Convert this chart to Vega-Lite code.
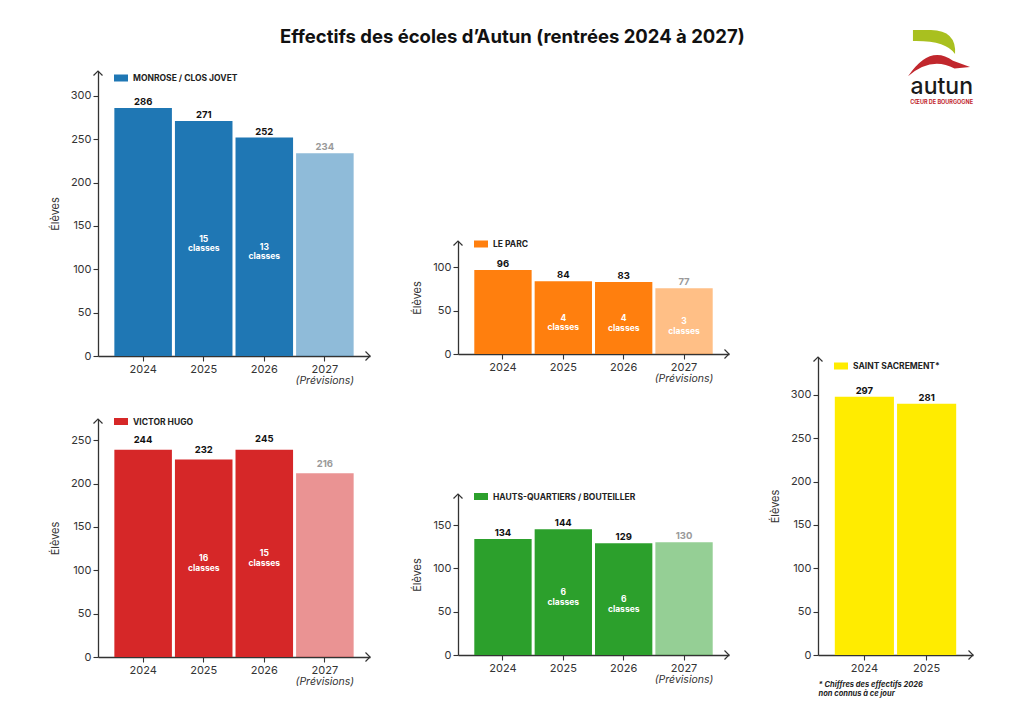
{
  "$schema": "https://vega.github.io/schema/vega-lite/v6.json",
  "autosize": {"type": "pad"},
  "padding": {"left": 49, "top": 28, "right": 5, "bottom": 5},
  "background": "white",
  "title": {"text": "Effectifs des écoles d’Autun (rentrées 2024 à 2027)", "fontSize": 18.5, "fontWeight": "bold", "color": "#111111", "anchor": "middle", "frame": "bounds", "offset": -17},
  "data": {"values": [
    {"ecole": "MONROSE / CLOS JOVET", "annee": "2024", "eleves": 286, "label": "286", "statut": "réel", "classes": ""},
    {"ecole": "MONROSE / CLOS JOVET", "annee": "2025", "eleves": 271, "label": "271", "statut": "réel", "classes": "15 classes"},
    {"ecole": "MONROSE / CLOS JOVET", "annee": "2026", "eleves": 252, "label": "252", "statut": "réel", "classes": "13 classes"},
    {"ecole": "MONROSE / CLOS JOVET", "annee": "2027", "eleves": 234, "label": "234", "statut": "prévision", "classes": ""},
    {"ecole": "LE PARC", "annee": "2024", "eleves": 97, "label": "96", "statut": "réel", "classes": ""},
    {"ecole": "LE PARC", "annee": "2025", "eleves": 84, "label": "84", "statut": "réel", "classes": "4 classes"},
    {"ecole": "LE PARC", "annee": "2026", "eleves": 83, "label": "83", "statut": "réel", "classes": "4 classes"},
    {"ecole": "LE PARC", "annee": "2027", "eleves": 76, "label": "77", "statut": "prévision", "classes": "3 classes"},
    {"ecole": "VICTOR HUGO", "annee": "2024", "eleves": 239, "label": "244", "statut": "réel", "classes": ""},
    {"ecole": "VICTOR HUGO", "annee": "2025", "eleves": 228, "label": "232", "statut": "réel", "classes": "16 classes"},
    {"ecole": "VICTOR HUGO", "annee": "2026", "eleves": 239, "label": "245", "statut": "réel", "classes": "15 classes"},
    {"ecole": "VICTOR HUGO", "annee": "2027", "eleves": 212, "label": "216", "statut": "prévision", "classes": ""},
    {"ecole": "HAUTS-QUARTIERS / BOUTEILLER", "annee": "2024", "eleves": 134, "label": "134", "statut": "réel", "classes": ""},
    {"ecole": "HAUTS-QUARTIERS / BOUTEILLER", "annee": "2025", "eleves": 145, "label": "144", "statut": "réel", "classes": "6 classes"},
    {"ecole": "HAUTS-QUARTIERS / BOUTEILLER", "annee": "2026", "eleves": 129, "label": "129", "statut": "réel", "classes": "6 classes"},
    {"ecole": "HAUTS-QUARTIERS / BOUTEILLER", "annee": "2027", "eleves": 130, "label": "130", "statut": "prévision", "classes": ""},
    {"ecole": "SAINT SACREMENT*", "annee": "2024", "eleves": 298, "label": "297", "statut": "réel", "classes": ""},
    {"ecole": "SAINT SACREMENT*", "annee": "2025", "eleves": 290, "label": "281", "statut": "réel", "classes": ""}
  ]},
  "spacing": 360,
  "bounds": "flush",
  "resolve": {"scale": {"color": "independent", "opacity": "independent", "x": "independent", "y": "independent"}, "legend": {"color": "independent"}},
  "hconcat": [
    {
      "spacing": 63,
      "bounds": "flush",
      "resolve": {"scale": {"color": "independent", "opacity": "independent", "x": "independent", "y": "independent"}, "legend": {"color": "independent"}},
      "vconcat": [
        {
          "width": 272, "height": 285,
          "transform": [{"filter": {"field": "ecole", "equal": "MONROSE / CLOS JOVET"}}],
          "encoding": {"x": {"field": "annee", "type": "ordinal", "sort": "ascending", "scale": {"paddingInner": 0.05, "paddingOuter": 0.27}, "axis": {"title": null, "labelAngle": 0}}},
          "layer": [
            {"layer": [
              {"mark": {"type": "bar"}, "encoding": {
                "y": {"field": "eleves", "type": "quantitative", "scale": {"domain": [0, 328.8], "nice": false}, "axis": {"title": "Élèves", "values": [0, 50, 100, 150, 200, 250, 300]}},
                "color": {"field": "ecole", "type": "nominal", "scale": {"range": ["#1f77b4"]}, "legend": {"title": null, "legendY": 0}},
                "opacity": {"field": "statut", "type": "nominal", "scale": {"domain": ["réel", "prévision"], "range": [1, 0.5]}, "legend": null}}},
              {"mark": {"type": "text", "baseline": "alphabetic", "dy": -3, "fontWeight": "bold", "fontSize": 9.5}, "encoding": {"y": {"field": "eleves", "type": "quantitative"}, "text": {"field": "label"}, "color": {"condition": {"test": "datum.statut === 'prévision'", "value": "#9a9a9a"}, "value": "#111111"}}},
              {"transform": [{"filter": "datum.statut === 'prévision'"}], "mark": {"type": "text", "fontStyle": "italic", "fontSize": 10.5, "color": "#333333", "baseline": "middle", "dy": 25}, "encoding": {"y": {"datum": 0, "type": "quantitative"}, "text": {"value": "(Prévisions)"}}},
              {"data": {"values": [{}]}, "mark": {"type": "point", "shape": "M-1,1L0,0L1,1", "filled": false, "stroke": "#333333", "strokeWidth": 1.2, "size": 81, "opacity": 1}, "encoding": {"x": {"value": 0}, "y": {"value": 0}}},
              {"data": {"values": [{}]}, "mark": {"type": "point", "shape": "M-1,-1L0,0L-1,1", "filled": false, "stroke": "#333333", "strokeWidth": 1.2, "size": 81, "opacity": 1}, "encoding": {"x": {"value": "width"}, "y": {"value": "height"}}}
            ]},
            {"transform": [{"filter": "datum.classes"}], "mark": {"type": "text", "lineBreak": " ", "fontWeight": "bold", "fontSize": 8.5, "color": "white", "baseline": "middle", "lineHeight": 9.5}, "encoding": {"y": {"field": "eleves", "type": "quantitative", "scale": {"domain": [0, 657.6], "nice": false}, "axis": null}, "text": {"field": "classes"}}}
          ],
          "resolve": {"scale": {"y": "independent"}}
        },
        {
          "width": 272, "height": 238,
          "transform": [{"filter": {"field": "ecole", "equal": "VICTOR HUGO"}}],
          "encoding": {"x": {"field": "annee", "type": "ordinal", "sort": "ascending", "scale": {"paddingInner": 0.05, "paddingOuter": 0.27}, "axis": {"title": null, "labelAngle": 0}}},
          "layer": [
            {"layer": [
              {"mark": {"type": "bar"}, "encoding": {
                "y": {"field": "eleves", "type": "quantitative", "scale": {"domain": [0, 274.6], "nice": false}, "axis": {"title": "Élèves", "values": [0, 50, 100, 150, 200, 250]}},
                "color": {"field": "ecole", "type": "nominal", "scale": {"range": ["#d62728"]}, "legend": {"title": null, "legendY": -4.5}},
                "opacity": {"field": "statut", "type": "nominal", "scale": {"domain": ["réel", "prévision"], "range": [1, 0.5]}, "legend": null}}},
              {"mark": {"type": "text", "baseline": "alphabetic", "dy": -3, "fontWeight": "bold", "fontSize": 9.5}, "encoding": {"y": {"field": "label", "type": "quantitative"}, "text": {"field": "label"}, "color": {"condition": {"test": "datum.statut === 'prévision'", "value": "#9a9a9a"}, "value": "#111111"}}},
              {"transform": [{"filter": "datum.statut === 'prévision'"}], "mark": {"type": "text", "fontStyle": "italic", "fontSize": 10.5, "color": "#333333", "baseline": "middle", "dy": 25}, "encoding": {"y": {"datum": 0, "type": "quantitative"}, "text": {"value": "(Prévisions)"}}},
              {"data": {"values": [{}]}, "mark": {"type": "point", "shape": "M-1,1L0,0L1,1", "filled": false, "stroke": "#333333", "strokeWidth": 1.2, "size": 81, "opacity": 1}, "encoding": {"x": {"value": 0}, "y": {"value": 0}}},
              {"data": {"values": [{}]}, "mark": {"type": "point", "shape": "M-1,-1L0,0L-1,1", "filled": false, "stroke": "#333333", "strokeWidth": 1.2, "size": 81, "opacity": 1}, "encoding": {"x": {"value": "width"}, "y": {"value": "height"}}}
            ]},
            {"transform": [{"filter": "datum.classes"}], "mark": {"type": "text", "lineBreak": " ", "fontWeight": "bold", "fontSize": 8.5, "color": "white", "baseline": "middle", "lineHeight": 9.5}, "encoding": {"y": {"field": "eleves", "type": "quantitative", "scale": {"domain": [0, 549.2], "nice": false}, "axis": null}, "text": {"field": "classes"}}}
          ],
          "resolve": {"scale": {"y": "independent"}}
        }
      ]
    },
    {
      "spacing": 140,
      "bounds": "flush",
      "resolve": {"scale": {"color": "independent", "opacity": "independent", "x": "independent", "y": "independent"}, "legend": {"color": "independent"}},
      "vconcat": [
        {"width": 271, "height": 30, "data": {"values": [{}]}, "mark": {"type": "text"}, "encoding": {"text": {"value": ""}}},
        {
          "width": 271, "height": 113,
          "transform": [{"filter": {"field": "ecole", "equal": "LE PARC"}}],
          "encoding": {"x": {"field": "annee", "type": "ordinal", "sort": "ascending", "scale": {"paddingInner": 0.05, "paddingOuter": 0.27}, "axis": {"title": null, "labelAngle": 0}}},
          "layer": [
            {"layer": [
              {"mark": {"type": "bar"}, "encoding": {
                "y": {"field": "eleves", "type": "quantitative", "scale": {"domain": [0, 130.4], "nice": false}, "axis": {"title": "Élèves", "values": [0, 50, 100]}},
                "color": {"field": "ecole", "type": "nominal", "scale": {"range": ["#ff7f0e"]}, "legend": {"title": null, "legendY": -4}},
                "opacity": {"field": "statut", "type": "nominal", "scale": {"domain": ["réel", "prévision"], "range": [1, 0.5]}, "legend": null}}},
              {"mark": {"type": "text", "baseline": "alphabetic", "dy": -3, "fontWeight": "bold", "fontSize": 9.5}, "encoding": {"y": {"field": "eleves", "type": "quantitative"}, "text": {"field": "label"}, "color": {"condition": {"test": "datum.statut === 'prévision'", "value": "#9a9a9a"}, "value": "#111111"}}},
              {"transform": [{"filter": "datum.statut === 'prévision'"}], "mark": {"type": "text", "fontStyle": "italic", "fontSize": 10.5, "color": "#333333", "baseline": "middle", "dy": 25}, "encoding": {"y": {"datum": 0, "type": "quantitative"}, "text": {"value": "(Prévisions)"}}},
              {"data": {"values": [{}]}, "mark": {"type": "point", "shape": "M-1,1L0,0L1,1", "filled": false, "stroke": "#333333", "strokeWidth": 1.2, "size": 81, "opacity": 1}, "encoding": {"x": {"value": 0}, "y": {"value": 0}}},
              {"data": {"values": [{}]}, "mark": {"type": "point", "shape": "M-1,-1L0,0L-1,1", "filled": false, "stroke": "#333333", "strokeWidth": 1.2, "size": 81, "opacity": 1}, "encoding": {"x": {"value": "width"}, "y": {"value": "height"}}}
            ]},
            {"transform": [{"filter": "datum.classes"}], "mark": {"type": "text", "lineBreak": " ", "fontWeight": "bold", "fontSize": 8.5, "color": "white", "baseline": "middle", "lineHeight": 9.5}, "encoding": {"y": {"field": "eleves", "type": "quantitative", "scale": {"domain": [0, 260.8], "nice": false}, "axis": null}, "text": {"field": "classes"}}}
          ],
          "resolve": {"scale": {"y": "independent"}}
        },
        {
          "width": 271, "height": 161,
          "transform": [{"filter": {"field": "ecole", "equal": "HAUTS-QUARTIERS / BOUTEILLER"}}],
          "encoding": {"x": {"field": "annee", "type": "ordinal", "sort": "ascending", "scale": {"paddingInner": 0.05, "paddingOuter": 0.27}, "axis": {"title": null, "labelAngle": 0}}},
          "layer": [
            {"layer": [
              {"mark": {"type": "bar"}, "encoding": {
                "y": {"field": "eleves", "type": "quantitative", "scale": {"domain": [0, 185.8], "nice": false}, "axis": {"title": "Élèves", "values": [0, 50, 100, 150]}},
                "color": {"field": "ecole", "type": "nominal", "scale": {"range": ["#2ca02c"]}, "legend": {"title": null, "legendY": -4.5}},
                "opacity": {"field": "statut", "type": "nominal", "scale": {"domain": ["réel", "prévision"], "range": [1, 0.5]}, "legend": null}}},
              {"mark": {"type": "text", "baseline": "alphabetic", "dy": -3, "fontWeight": "bold", "fontSize": 9.5}, "encoding": {"y": {"field": "eleves", "type": "quantitative"}, "text": {"field": "label"}, "color": {"condition": {"test": "datum.statut === 'prévision'", "value": "#9a9a9a"}, "value": "#111111"}}},
              {"transform": [{"filter": "datum.statut === 'prévision'"}], "mark": {"type": "text", "fontStyle": "italic", "fontSize": 10.5, "color": "#333333", "baseline": "middle", "dy": 25}, "encoding": {"y": {"datum": 0, "type": "quantitative"}, "text": {"value": "(Prévisions)"}}},
              {"data": {"values": [{}]}, "mark": {"type": "point", "shape": "M-1,1L0,0L1,1", "filled": false, "stroke": "#333333", "strokeWidth": 1.2, "size": 81, "opacity": 1}, "encoding": {"x": {"value": 0}, "y": {"value": 0}}},
              {"data": {"values": [{}]}, "mark": {"type": "point", "shape": "M-1,-1L0,0L-1,1", "filled": false, "stroke": "#333333", "strokeWidth": 1.2, "size": 81, "opacity": 1}, "encoding": {"x": {"value": "width"}, "y": {"value": "height"}}}
            ]},
            {"transform": [{"filter": "datum.classes"}], "mark": {"type": "text", "lineBreak": " ", "fontWeight": "bold", "fontSize": 8.5, "color": "white", "baseline": "middle", "lineHeight": 9.5}, "encoding": {"y": {"field": "eleves", "type": "quantitative", "scale": {"domain": [0, 371.6], "nice": false}, "axis": null}, "text": {"field": "classes"}}}
          ],
          "resolve": {"scale": {"y": "independent"}}
        }
      ]
    },
    {
      "spacing": 20,
      "bounds": "flush",
      "resolve": {"scale": {"color": "independent", "opacity": "independent", "x": "independent", "y": "independent"}, "legend": {"color": "independent"}},
      "vconcat": [
        {
          "width": 155, "height": 266,
          "title": {"text": "autun", "subtitle": "CŒUR DE BOURGOGNE", "anchor": "end", "frame": "group", "orient": "top", "offset": -76, "fontSize": 23, "fontWeight": 500, "color": "#1a1a1a", "subtitleFontSize": 5.5, "subtitleFontWeight": "bold", "subtitleColor": "#c1272d", "subtitlePadding": 1, "dx": 0},
          "layer": [
            {"data": {"values": [{"forme": "feuille"}]}, "mark": {"type": "point", "shape": "M-1,-0.57L-0.22,-0.57Q0.9,-0.55 0.83,0.48Q0.45,-0.12 -1,-0.09Z", "filled": true, "fill": "#a9c01f", "strokeWidth": 0, "size": 2116, "opacity": 1}, "encoding": {"x": {"datum": 0.761, "type": "quantitative", "scale": {"domain": [0, 1], "nice": false, "zero": false}, "axis": null}, "y": {"datum": 1.105, "type": "quantitative", "scale": {"domain": [0, 1], "nice": false, "zero": false}, "axis": null}}},
            {"data": {"values": [{"forme": "courbe"}]}, "mark": {"type": "point", "shape": "M-1,0.3Q-0.3,-0.75 0.45,-0.2L1,0L0.5,0.05Q-0.25,-0.35 -1,0.3Z", "filled": true, "fill": "#c1272d", "strokeWidth": 0, "size": 3844, "opacity": 1}, "encoding": {"x": {"datum": 0.781, "type": "quantitative"}, "y": {"datum": 1.015, "type": "quantitative"}}}
          ]
        },
        {
          "width": 155, "height": 298,
          "transform": [{"filter": {"field": "ecole", "equal": "SAINT SACREMENT*"}}],
          "encoding": {"x": {"field": "annee", "type": "ordinal", "sort": "ascending", "scale": {"paddingInner": 0.05, "paddingOuter": 0.27}, "axis": {"labelAngle": 0, "title": ["* Chiffres des effectifs 2026", "\u00a0\u00a0\u00a0non connus à ce jour"], "titleFontSize": 7.5, "titleFontStyle": "italic", "titleFontWeight": "bold", "titleAnchor": "start", "titleAlign": "left", "titlePadding": 7, "titleLineHeight": 9.5, "titleColor": "#222222"}}},
          "layer": [
            {"mark": {"type": "bar"}, "encoding": {
              "y": {"field": "eleves", "type": "quantitative", "scale": {"domain": [0, 343.8], "nice": false}, "axis": {"title": "Élèves", "values": [0, 50, 100, 150, 200, 250, 300]}},
              "color": {"field": "ecole", "type": "nominal", "scale": {"range": ["#ffec00"]}, "legend": {"title": null, "legendY": 2}},
              "opacity": {"field": "statut", "type": "nominal", "scale": {"domain": ["réel", "prévision"], "range": [1, 0.5]}, "legend": null}}},
            {"mark": {"type": "text", "baseline": "alphabetic", "dy": -3, "fontWeight": "bold", "fontSize": 9.5, "color": "#111111"}, "encoding": {"y": {"field": "eleves", "type": "quantitative"}, "text": {"field": "label"}}},
            {"data": {"values": [{}]}, "mark": {"type": "point", "shape": "M-1,1L0,0L1,1", "filled": false, "stroke": "#333333", "strokeWidth": 1.2, "size": 81, "opacity": 1}, "encoding": {"x": {"value": 0}, "y": {"value": 0}}},
            {"data": {"values": [{}]}, "mark": {"type": "point", "shape": "M-1,-1L0,0L-1,1", "filled": false, "stroke": "#333333", "strokeWidth": 1.2, "size": 81, "opacity": 1}, "encoding": {"x": {"value": "width"}, "y": {"value": "height"}}}
          ]
        }
      ]
    }
  ],
  "config": {
    "font": "Inter",
    "view": {"stroke": null},
    "axis": {"grid": false, "domainColor": "#333333", "tickColor": "#333333", "labelColor": "#333333", "titleColor": "#333333", "labelFontSize": 11, "titleFontSize": 11, "titleFontWeight": "normal", "tickSize": 5, "domainWidth": 1.3, "tickWidth": 1.1, "labelPadding": 2},
    "axisY": {"titlePadding": 10},
    "legend": {"orient": "none", "legendX": 16, "symbolType": "M-1,-0.5H1V0.5H-1Z", "symbolSize": 196, "symbolStrokeWidth": 0, "symbolOpacity": 1, "labelFontSize": 8.5, "labelFontWeight": "bold", "labelColor": "#222222", "labelOffset": 5, "padding": 0}
  }
}
